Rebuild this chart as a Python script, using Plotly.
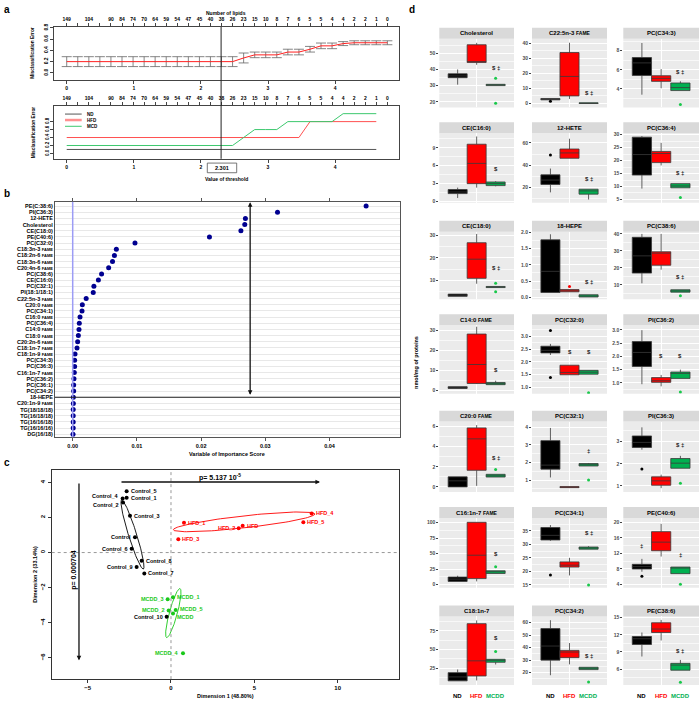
import numpy as np
import plotly.graph_objects as go

W, H = 700, 701
FONT = "Liberation Sans"


def fx(p):
    return p / W


def fy(p):
    return 1 - p / H


# ---------------- panel a data ----------------
A_THRESH = [0.000, 0.165, 0.330, 0.494, 0.659, 0.824, 0.989, 1.154, 1.318, 1.483,
            1.648, 1.813, 1.978, 2.142, 2.307, 2.472, 2.637, 2.802, 2.966, 3.131,
            3.296, 3.461, 3.626, 3.790, 3.955, 4.120, 4.285, 4.450, 4.614, 4.779]
A_NLIPIDS = ["149", "", "104", "", "90", "84", "74", "70", "64", "59", "54", "47", "45", "40",
             "38", "26", "23", "15", "10", "8", "7", "6", "5", "5", "4", "4", "2", "2", "1", "0"]
A_ERR = [0.2, 0.2, 0.2, 0.2, 0.2, 0.2, 0.2, 0.2, 0.2, 0.2, 0.2, 0.2, 0.2, 0.2, 0.2, 0.2,
         0.265, 0.32, 0.32, 0.32, 0.37, 0.37, 0.42, 0.48, 0.48, 0.52, 0.535, 0.535, 0.535, 0.535]
A_SE = [0.088, 0.088, 0.088, 0.088, 0.088, 0.088, 0.088, 0.088, 0.088, 0.088,
        0.088, 0.088, 0.088, 0.088, 0.088, 0.088, 0.088, 0.05, 0.05, 0.05,
        0.05, 0.05, 0.05, 0.05, 0.05, 0.035, 0.035, 0.035, 0.035, 0.035]
A_ND = [0.1] * 29
A_HFD = [0.4, 0.4, 0.4, 0.4, 0.4, 0.4, 0.4, 0.4, 0.4, 0.4, 0.4, 0.4, 0.4, 0.4, 0.4, 0.4,
         0.4, 0.4, 0.4, 0.4, 0.4, 0.4, 0.8, 0.8, 0.8, 0.8, 0.8, 0.8, 0.8]
A_MCD = [0.2, 0.2, 0.2, 0.2, 0.2, 0.2, 0.2, 0.2, 0.2, 0.2, 0.2, 0.2, 0.2, 0.2, 0.2, 0.2,
         0.4, 0.6, 0.6, 0.6, 0.8, 0.8, 0.8, 0.8, 0.8, 1.0, 1.0, 1.0, 1.0]
A_CHOSEN = 2.301

# ---------------- panel b data ----------------
FAME = ' <span style="font-size:4px">FAME</span>'
B_LABELS = ["PE(C:38:6)", "PI(C36:3)", "12-HETE", "Cholesterol", "CE(C18:0)", "PE(C40:6)",
            "PC(C32:0)", "C18:3n-3" + FAME, "C18:2n-6" + FAME, "C18:3n-6" + FAME,
            "C20:4n-6" + FAME, "PC(C38:6)", "CE(C16:0)", "PC(C32:1)", "PI(18:1/18:1)",
            "C22:5n-3" + FAME, "C20:0" + FAME, "PC(C34:1)", "C16:0" + FAME, "PC(C36:4)",
            "C14:0" + FAME, "C18:0" + FAME, "C20:2n-6" + FAME, "C18:1n-7" + FAME,
            "C18:1n-9" + FAME, "PC(C34:3)", "PC(C36:3)", "C16:1n-7" + FAME, "PC(C36:2)",
            "PC(C36:1)", "PC(C34:2)", "18-HEPE", "C20:1n-9" + FAME, "TG(18/18/18)",
            "TG(16/18/18)", "TG(16/16/18)", "TG(16/16/16)", "DG(16/18)"]
B_VALUES = [0.0457, 0.0319, 0.0269, 0.0268, 0.0262, 0.0213, 0.0097, 0.0068, 0.0065, 0.0062,
            0.0056, 0.0045, 0.0040, 0.0033, 0.0032, 0.0021, 0.0015, 0.00145, 0.00114, 0.00103,
            0.00098, 0.00088, 0.00077, 0.00067, 0.00036, 0.0003, 0.0003, 0.00025, 0.0002,
            0.00015, 0.00015, 0.0001, 0.0001, 0.00008, 0.00008, 0.00008, 0.00008, 0.00005]
B_CUT_ROW = 31
B_ARROW_X = 0.02764

# ---------------- panel c data ----------------
C_NAMES = ["Control_5", "Control_1", "Control_4", "Control_2", "Control_3", "Control",
           "Control_6", "Control_8", "Control_9", "Control_7", "Control_10",
           "HFD_1", "HFD_4", "HFD_5", "HFD", "HFD_2", "HFD_3",
           "MCDD_1", "MCDD_3", "MCDD_5", "MCDD_2", "MCDD", "MCDD_4"]
C_X = [-2.66, -2.66, -2.90, -2.88, -2.46, -2.16, -2.36, -1.76, -2.06, -1.60, -0.26,
       0.78, 8.44, 7.94, 4.30, 4.06, 0.44,
       0.12, -0.20, 0.28, -0.14, 0.12, 0.72]
C_Y = [3.50, 3.12, 3.08, 2.85, 2.10, 0.87, 0.21, -0.47, -0.83, -1.19, -3.66,
       1.70, 2.23, 1.72, 1.53, 1.38, 0.76,
       -2.55, -2.66, -3.27, -3.30, -3.47, -5.74]
C_GROUP = ["ND"] * 11 + ["HFD"] * 6 + ["MCDD"] * 6
# label placement (side of the point, vertical nudge in px)
C_SIDE = ["r", "r", "l", "l", "r", "l", "l", "r", "l", "r", "l",
          "r", "r", "r", "r", "l", "r",
          "r", "l", "r", "l", "r", "l"]
C_DY = [0, 0, 2, -2.5, 0, 0, 0, 0, 0, 0, 0,
        0, 0, 0, 0, 0, 0,
        0, 0, 1, 0, -3.5, 0]
# ellipses: centre, half major axis vector, half minor axis vector
C_ELLIPSES = {"ND": (-2.31, 1.03, 0.65, -1.97, 0.23, 0.07),
              "HFD": (4.39, 1.75, 4.25, 0.45, 0.04, -0.34),
              "MCDD": (0.14, -3.45, 0.40, 1.40, 0.23, -0.06)}
C_COLORS = {"ND": "black", "HFD": "#FF0000", "MCDD": "#19C819"}

# ---------------- panel d data ----------------
DF = ' <span style="font-size:5px">FAME</span>'
D_TITLES = ["Cholesterol", "C22:5n-3" + DF, "PC(C34:3)",
            "CE(C16:0)", "12-HETE", "PC(C36:4)",
            "CE(C18:0)", "18-HEPE", "PC(C38:6)",
            "C14:0" + DF, "PC(C32:0)", "PI(C36:2)",
            "C20:0" + DF, "PC(C32:1)", "PI(C36:3)",
            "C16:1n-7" + DF, "PC(C34:1)", "PE(C40:6)",
            "C18:1n-7", "PC(C34:2)", "PE(C38:6)"]
D_GROUPS = ["ND", "HFD", "MCDD"]
D_Q1 = [[34.9, 44.3, 30.0], [2.4, 5.0, 0.0], [5.41, 4.79, 3.83],
        [1.33, 3.0, 2.67], [22.8, 46.2, 14.1], [14.4, 19.2, 9.5],
        [2.9, 10.9, 6.8], [0.15, 0.17, 0.01], [17.0, 21.6, 5.8],
        [0.8, 3.3, 2.7], [2.35, 1.5, 1.52], [1.62, 1.02, 1.17],
        [0.0, 1.65, 0.98], [1.62, 0.57, 1.8], [2.74, 1.03, 1.8],
        [5.3, 9.8, 18.1], [31.6, 21.6, 28.2], [8.0, 12.7, 6.8],
        [7.7, 14.3, 32.8], [30.0, 32.0, 22.4], [10.3, 12.4, 5.8]]
D_MED = [[36.0, 44.9, 30.4], [2.8, 17.9, 0.2], [6.72, 5.1, 4.14],
         [1.6, 6.39, 3.0], [26.7, 51.0, 17.0], [22.3, 22.7, 10.2],
         [3.4, 19.4, 7.05], [0.8, 0.2, 0.04], [27.1, 28.7, 6.5],
         [1.2, 12.9, 3.2], [2.45, 1.59, 1.6], [2.15, 1.08, 1.36],
         [0.6, 4.78, 1.1], [1.85, 0.6, 1.87], [2.97, 1.23, 2.03],
         [9.0, 47.5, 21.0], [33.3, 22.3, 28.7], [8.6, 14.9, 8.4],
         [13.0, 34.7, 35.8], [41.3, 36.5, 23.5], [11.3, 13.0, 6.7]]
D_Q3 = [[37.3, 55.3, 30.8], [3.3, 33.7, 0.4], [7.28, 5.38, 4.62],
        [2.0, 9.6, 3.28], [31.4, 54.5, 18.5], [29.0, 23.5, 11.1],
        [3.9, 26.7, 7.3], [1.77, 0.24, 0.08], [38.0, 29.5, 7.2],
        [1.7, 28.3, 3.8], [2.61, 1.87, 1.67], [2.56, 1.2, 1.41],
        [1.0, 5.87, 1.25], [3.24, 0.63, 1.94], [3.26, 1.41, 2.24],
        [12.3, 100.6, 22.4], [36.2, 23.5, 29.0], [9.2, 17.6, 8.5],
        [18.8, 84.8, 36.8], [55.3, 37.8, 24.3], [11.7, 14.1, 7.0]]
D_LO = [[30.6, 42.9, 30.0], [2.4, 3.0, 0.0], [3.4, 4.07, 3.83],
        [0.6, 2.33, 2.55], [15.7, 46.2, 9.3], [9.2, 18.1, 9.5],
        [2.9, 8.5, 6.8], [0.15, 0.17, 0.01], [11.0, 19.0, 5.8],
        [0.8, 3.0, 2.7], [2.27, 1.5, 1.52], [0.95, 0.87, 1.17],
        [0.0, 0.1, 0.98], [1.15, 0.57, 1.8], [2.64, 0.9, 1.8],
        [5.3, 5.3, 18.1], [31.3, 18.5, 28.2], [7.3, 11.2, 6.8],
        [7.7, 8.3, 29.8], [17.9, 26.6, 22.4], [8.2, 11.0, 5.8]]
D_HI = [[40.0, 56.5, 30.8], [3.3, 40.2, 0.4], [8.8, 6.07, 4.8],
        [2.33, 10.9, 3.4], [37.0, 63.7, 18.5], [29.4, 26.8, 11.1],
        [3.9, 30.6, 7.3], [1.94, 0.24, 0.08], [40.0, 40.0, 7.2],
        [1.7, 32.0, 4.7], [2.7, 1.87, 1.67], [2.99, 1.3, 1.5],
        [1.0, 6.15, 1.25], [3.96, 0.63, 1.97], [3.65, 1.51, 2.36],
        [14.4, 100.6, 22.4], [37.1, 25.0, 29.3], [10.6, 19.6, 8.5],
        [23.0, 89.2, 36.8], [62.0, 43.7, 24.3], [12.4, 14.6, 7.6]]
D_OUT = [[[], [], [34.5, 19.0]], [[1.5], [], []], [[], [], [2.38]],
         [[], [], []], [[49.2], [], []], [[], [], [5.8]],
         [[], [], [8.7, 5.0]], [[], [0.33], []], [[], [], [3.7]],
         [[], [], []], [[3.22, 1.39], [], [0.8]], [[], [], [0.66]],
         [[], [], [1.72]], [[], [], [1.0]], [[1.77], [], [1.12]],
         [[], [], [28.9]], [[18.7], [], [15.0]], [[6.1], [], [4.1]],
         [[], [], [47.3]], [[], [], [12.5]], [[], [], [3.7]]]
D_YRANGE = [[16.5, 59], [-2.6, 42.8], [2.07, 9.24],
            [-0.22, 11.44], [6.3, 68.6], [3.7, 30.5],
            [1.6, 31.6], [-0.06, 2.02], [1.6, 41.3],
            [-1.9, 32.8], [0.76, 3.43], [0.59, 3.18],
            [-0.5, 6.5], [0.33, 4.32], [0.73, 3.91],
            [-4.8, 107.5], [14.0, 39.7], [3.2, 21.1],
            [2.0, 94.5], [10.0, 65.0], [3.2, 15.2]]
D_TICKS = [[20, 30, 40, 50], [0, 10, 20, 30, 40], [4, 6, 8],
           [0, 3, 6, 9], [20, 40, 60], [5, 10, 15, 20, 25, 30],
           [10, 20, 30], [0.0, 0.5, 1.0, 1.5, 2.0], [10, 20, 30, 40],
           [0, 10, 20, 30], [1.0, 1.5, 2.0, 2.5, 3.0], [1.0, 1.5, 2.0, 2.5, 3.0],
           [0, 2, 4, 6], [1, 2, 3, 4], [1, 2, 3],
           [0, 25, 50, 75, 100], [15, 20, 25, 30, 35], [4, 8, 12, 16, 20],
           [25, 50, 75], [20, 30, 40, 50, 60], [6, 9, 12, 15]]
D_SIG = [[(3, 40.8, "$ ‡")], [(3, 7.0, "$ ‡")], [(3, 5.76, "$ ‡")],
         [(3, 5.4, "$")], [(3, 27.6, "$ ‡")], [(3, 15.3, "$ ‡")],
         [(3, 15.4, "$ ‡")], [(3, 0.47, "$ ‡")], [(3, 14.6, "$ ‡")],
         [(3, 10.0, "$")], [(2, 2.38, "$"), (3, 2.38, "$")], [(2, 2.0, "$"), (3, 2.0, "$")],
         [(3, 2.9, "$ ‡")], [(3, 2.64, "‡")], [(3, 2.85, "$ ‡")],
         [(3, 50.0, "$")], [(3, 34.3, "$ ‡")], [(1, 14.0, "‡"), (3, 11.5, "‡")],
         [(3, 65.0, "$")], [(3, 33.0, "$ ‡")], [(3, 9.1, "$ ‡")]]
D_FILL = ["#000000", "#FF0000", "#00B050"]
D_OUTC = ["#000000", "#FF0000", "#19C84B"]
D_LABC = ["#000000", "#FF0000", "#00B050"]

# ---------------- layout geometry ----------------
A_X = (54.3, 399.3)
A_TOP_Y = (24.0, 77.3)
A_BOT_Y = (104.0, 156.7)
B_BOX = (55.0, 400.0, 200.0, 436.7)
C_BOX = (51.7, 399.0, 470.0, 680.0)
D_COLS = [(439.3, 514.0), (532.0, 607.0), (623.3, 699.0)]
D_STRIP_TOP = [25, 120, 219, 313, 410, 507, 606]
D_BODY_TOP = [36, 131, 230, 324, 421, 518, 617]
D_BODY_BOT = [105, 201, 298, 393, 491.7, 588, 686]

fig = go.Figure()
layout = {}
ann = []
shp = []


def bfont(size, color="black", bold=True):
    return dict(family=FONT, size=size, color=color, weight="bold" if bold else "normal")


def txt(x, y, s, size, color="black", xanchor="center", yanchor="middle", angle=0, bold=True):
    ann.append(dict(xref="paper", yref="paper", x=fx(x), y=fy(y), text=s, showarrow=False,
                    font=bfont(size, color, bold), xanchor=xanchor, yanchor=yanchor,
                    textangle=angle, borderpad=0))


# ============ panel a ============
axline = dict(showline=True, linecolor="#444", linewidth=1, mirror=True, zeroline=False,
              showgrid=False, ticks="outside", ticklen=3, tickcolor="#444")
a_xrange = [-0.185, 4.957]
layout["xaxis"] = dict(domain=[fx(A_X[0]), fx(A_X[1])], anchor="y", range=a_xrange,
                       tickvals=[0, 1, 2, 3, 4], tickfont=bfont(5), **axline)
layout["yaxis"] = dict(domain=[fy(A_TOP_Y[1]), fy(A_TOP_Y[0])], anchor="x", range=[-0.1235, 0.817],
                       tickvals=[0, 0.2, 0.4, 0.6, 0.8], ticktext=["0.0", "0.2", "0.4", "0.6", "0.8"],
                       tickangle=-90, tickfont=bfont(5), **axline)
layout["xaxis2"] = dict(overlaying="x", side="top", anchor="y", range=a_xrange, tickvals=A_THRESH,
                        ticktext=A_NLIPIDS, tickfont=bfont(5), ticks="outside", ticklen=3,
                        tickcolor="#444", showgrid=False, zeroline=False, showline=False)
layout["xaxis3"] = dict(domain=[fx(A_X[0]), fx(A_X[1])], anchor="y3", range=a_xrange,
                        tickvals=[0, 1, 2, 3, 4], tickfont=bfont(5), **axline)
layout["yaxis3"] = dict(domain=[fy(A_BOT_Y[1]), fy(A_BOT_Y[0])], anchor="x3", range=[-0.135, 1.1825],
                        tickvals=[0, 0.2, 0.4, 0.6, 0.8], ticktext=["0.0", "0.2", "0.4", "0.6", "0.8"],
                        tickangle=-90, tickfont=bfont(4.5), **axline)
layout["xaxis4"] = dict(overlaying="x3", side="top", anchor="y3", range=a_xrange, tickvals=A_THRESH,
                        ticktext=A_NLIPIDS, tickfont=bfont(5), ticks="outside", ticklen=3,
                        tickcolor="#444", showgrid=False, zeroline=False, showline=False)

fig.add_trace(go.Scatter(x=A_THRESH, y=A_ERR, mode="lines", line=dict(color="#FF2020", width=1),
                         error_y=dict(type="data", array=A_SE, color="#666", thickness=0.8, width=5),
                         xaxis="x", yaxis="y", hoverinfo="skip"))
fig.add_trace(go.Scatter(x=[0], y=[-5], mode="markers", marker=dict(opacity=0), xaxis="x2", yaxis="y",
                         hoverinfo="skip"))
fig.add_trace(go.Scatter(x=A_THRESH[:29], y=A_ND, mode="lines", line=dict(color="#555", width=1),
                         xaxis="x3", yaxis="y3", hoverinfo="skip"))
fig.add_trace(go.Scatter(x=A_THRESH[:29], y=A_HFD, mode="lines", line=dict(color="#FF5050", width=1),
                         xaxis="x3", yaxis="y3", hoverinfo="skip"))
fig.add_trace(go.Scatter(x=A_THRESH[:29], y=A_MCD, mode="lines", line=dict(color="#3CC86E", width=1),
                         xaxis="x3", yaxis="y3", hoverinfo="skip"))
fig.add_trace(go.Scatter(x=[0], y=[-5], mode="markers", marker=dict(opacity=0), xaxis="x4", yaxis="y3",
                         hoverinfo="skip"))
shp.append(dict(type="line", xref="x", yref="paper", x0=A_CHOSEN, x1=A_CHOSEN,
                y0=fy(A_BOT_Y[1]), y1=fy(A_TOP_Y[0]), line=dict(color="#222", width=1)))
shp.append(dict(type="rect", xref="paper", yref="paper", x0=fx(207.3), x1=fx(236.7),
                y0=fy(170.7), y1=fy(161), line=dict(color="#555", width=0.8)))
txt(222, 166, "2.301", 5.5)
# legend
for (nm, col, wd, yy) in [("ND", "#555", 1, 111.7), ("HFD", "#FF9090", 2.5, 117.7), ("MCD", "#3CC86E", 1, 124)]:
    shp.append(dict(type="line", xref="paper", yref="paper", x0=fx(65), x1=fx(81.7), y0=fy(yy), y1=fy(yy),
                    line=dict(color=col, width=wd)))
    txt(86, yy, nm, 4.5, xanchor="left")
txt(226, 10.5, "Number of lipids", 5)
txt(226, 176.7, "Value of threshold", 5)
txt(33, 50, "Misclassification Error", 4.8, angle=-90)
txt(33, 130, "Misclassification Error", 4.8, angle=-90)

# ============ panel b ============
n_b = len(B_LABELS)
layout["xaxis5"] = dict(domain=[fx(B_BOX[0]), fx(B_BOX[1])], anchor="y5", range=[-0.002757, 0.05098],
                        tickvals=[0, 0.01, 0.02, 0.03, 0.04], ticktext=["0.00", "0.01", "0.02", "0.03", "0.04"],
                        tickfont=bfont(5.5), showline=True, linecolor="#555", linewidth=1, mirror="ticks",
                        ticks="outside", ticklen=3, tickcolor="#555", showgrid=False, zeroline=False)
layout["yaxis5"] = dict(domain=[fy(B_BOX[3]), fy(B_BOX[2])], anchor="x5", range=[n_b - 1 + 0.48, -0.69],
                        tickvals=list(range(n_b)), ticktext=B_LABELS, tickfont=bfont(5.5), ticks="",
                        showline=True, linecolor="#555", linewidth=1, mirror=True, showgrid=True,
                        gridcolor="#E8E8E8", gridwidth=0.8, zeroline=False)
shp.append(dict(type="line", xref="x5", yref="paper", x0=0, x1=0, y0=fy(B_BOX[3]), y1=fy(B_BOX[2]),
                line=dict(color="#9C9CF5", width=1.5)))
fig.add_trace(go.Scatter(x=B_VALUES, y=list(range(n_b)), mode="markers",
                         marker=dict(color="#000090", size=5), xaxis="x5", yaxis="y5", hoverinfo="skip"))
shp.append(dict(type="line", xref="paper", yref="y5", x0=fx(B_BOX[0]), x1=fx(B_BOX[1]),
                y0=B_CUT_ROW, y1=B_CUT_ROW, line=dict(color="#222", width=1.2)))
ann.append(dict(xref="x5", yref="y5", x=B_ARROW_X, y=-0.62, ax=B_ARROW_X, ay=B_CUT_ROW - 0.15,
                axref="x5", ayref="y5", showarrow=True, arrowhead=2, arrowsize=0.7, arrowwidth=1.3,
                arrowside="end+start", arrowcolor="#111", text=""))
txt(227, 453.5, "Variable of Importance Score", 5.5)

# ============ panel c ============
layout["xaxis6"] = dict(domain=[fx(C_BOX[0]), fx(C_BOX[1])], anchor="y6", range=[-7.157, 13.68],
                        tickvals=[-5, 0, 5, 10], tickfont=bfont(6), showline=True, linecolor="#333",
                        linewidth=1, mirror=True, ticks="outside", ticklen=3, tickcolor="#333",
                        showgrid=False, zeroline=False)
layout["yaxis6"] = dict(domain=[fy(C_BOX[3]), fy(C_BOX[2])], anchor="x6", range=[-7.212, 4.686],
                        tickvals=[-6, -4, -2, 0, 2, 4], tickangle=-90, tickfont=bfont(6), showline=True,
                        linecolor="#333", linewidth=1, mirror=True, ticks="outside", ticklen=3,
                        tickcolor="#333", showgrid=False, zeroline=False)
shp.append(dict(type="line", xref="x6", yref="paper", x0=0, x1=0, y0=fy(C_BOX[3]), y1=fy(C_BOX[2]),
                line=dict(color="#999", width=1, dash="dot")))
shp.append(dict(type="line", xref="paper", yref="y6", x0=fx(C_BOX[0]), x1=fx(C_BOX[1]), y0=0, y1=0,
                line=dict(color="#999", width=1, dash="dot")))
tt = np.linspace(0, 2 * np.pi, 120)
for g, (cx, cy, ax_, ay_, bx_, by_) in C_ELLIPSES.items():
    fig.add_trace(go.Scatter(x=cx + ax_ * np.cos(tt) + bx_ * np.sin(tt),
                             y=cy + ay_ * np.cos(tt) + by_ * np.sin(tt), mode="lines",
                             line=dict(color=C_COLORS[g], width=0.9), xaxis="x6", yaxis="y6",
                             hoverinfo="skip"))
for g in ["ND", "HFD", "MCDD"]:
    idx = [i for i in range(len(C_NAMES)) if C_GROUP[i] == g]
    fig.add_trace(go.Scatter(x=[C_X[i] for i in idx], y=[C_Y[i] for i in idx], mode="markers",
                             marker=dict(color=C_COLORS[g], size=4),
                             xaxis="x6", yaxis="y6", hoverinfo="skip"))
for i in range(len(C_NAMES)):
    right = C_SIDE[i] == "r"
    ann.append(dict(xref="x6", yref="y6", x=C_X[i], y=C_Y[i], text=C_NAMES[i], showarrow=False,
                    xanchor="left" if right else "right", xshift=3 if right else -3, yshift=C_DY[i],
                    font=bfont(5.5, C_COLORS[C_GROUP[i]]), borderpad=0))
ann.append(dict(xref="x6", yref="y6", x=8.94, y=4.02, ax=-3.06, ay=4.02, axref="x6", ayref="y6",
                showarrow=True, arrowhead=2, arrowsize=0.7, arrowwidth=1.3, arrowcolor="#111", text=""))
ann.append(dict(xref="x6", yref="y6", x=-5.52, y=-6.14, ax=-5.52, ay=4.02, axref="x6", ayref="y6",
                showarrow=True, arrowhead=2, arrowsize=0.7, arrowwidth=1.3, arrowcolor="#111", text=""))
txt(220, 477, "p= 5.137 10<sup>-5</sup>", 7, yanchor="middle")
txt(74.5, 570.5, "p= 0.000704", 7, angle=-90)
txt(225, 696.5, "Dimension 1 (48.80%)", 5.5)
txt(35, 575, "Dimension 2 (33.14%)", 5.5, angle=-90)

# ============ panel d ============
for i in range(21):
    n = 7 + i
    r, c = divmod(i, 3)
    x0, x1 = D_COLS[c]
    yt, yb = D_BODY_TOP[r], D_BODY_BOT[r]
    ticks = D_TICKS[i]
    step = ticks[1] - ticks[0]
    minor = [t - step / 2 for t in ticks] + [ticks[-1] + step / 2]
    dec = any(abs(t - round(t)) > 1e-9 for t in ticks)
    ttext = [f"{t:.1f}" if dec else f"{int(t)}" for t in ticks]
    layout[f"xaxis{n}"] = dict(domain=[fx(x0), fx(x1)], anchor=f"y{n}", range=[0.034, 3.966],
                               tickvals=[2], showticklabels=False, ticks="", showgrid=True,
                               gridcolor="white", gridwidth=1, zeroline=False, showline=False)
    layout[f"yaxis{n}"] = dict(domain=[fy(yb), fy(yt)], anchor=f"x{n}", range=D_YRANGE[i],
                               tickvals=ticks, ticktext=ttext, ticks="outside", ticklen=2,
                               tickcolor="#444", tickfont=bfont(5, "#4D4D4D"), showgrid=True,
                               gridcolor="white", gridwidth=1, zeroline=False, showline=False,
                               minor=dict(tickvals=minor, showgrid=True, gridcolor="rgba(255,255,255,0.65)",
                                          gridwidth=0.5, ticks=""))
    shp.append(dict(type="rect", xref="paper", yref="paper", x0=fx(x0), x1=fx(x1), y0=fy(yb), y1=fy(yt),
                    fillcolor="#EBEBEB", line=dict(width=0), layer="below"))
    shp.append(dict(type="rect", xref="paper", yref="paper", x0=fx(x0), x1=fx(x1),
                    y0=fy(yt), y1=fy(D_STRIP_TOP[r]), fillcolor="#D9D9D9", line=dict(width=0),
                    layer="below"))
    txt((x0 + x1) / 2, (D_STRIP_TOP[r] + yt) / 2, D_TITLES[i], 6)
    for g in range(3):
        fig.add_trace(go.Box(x=[g + 1], q1=[D_Q1[i][g]], median=[D_MED[i][g]], q3=[D_Q3[i][g]],
                             lowerfence=[D_LO[i][g]], upperfence=[D_HI[i][g]], width=1.0,
                             orientation="v", fillcolor=D_FILL[g], line=dict(color="#3A3A3A", width=0.8),
                             whiskerwidth=0, boxpoints=False, xaxis=f"x{n}", yaxis=f"y{n}",
                             hoverinfo="skip"))
        if D_OUT[i][g]:
            fig.add_trace(go.Scatter(x=[g + 1] * len(D_OUT[i][g]), y=D_OUT[i][g], mode="markers",
                                     marker=dict(color=D_OUTC[g], size=3), xaxis=f"x{n}", yaxis=f"y{n}",
                                     hoverinfo="skip"))
    for (g, yv, s) in D_SIG[i]:
        ann.append(dict(xref=f"x{n}", yref=f"y{n}", x=g, y=yv, text=s, showarrow=False,
                        font=bfont(6, "#222"), borderpad=0))
    if r == 6:
        for g in range(3):
            ann.append(dict(xref=f"x{n}", yref="paper", x=g + 1, y=fy(696.5), text=D_GROUPS[g],
                            showarrow=False, font=bfont(6, D_LABC[g]), borderpad=0, yanchor="middle"))

txt(416, 362, "nmol/mg of proteins", 5.5, angle=-90)

# panel letters
txt(3, 7, "a", 10, xanchor="left")
txt(3, 192, "b", 10, xanchor="left")
txt(3, 462, "c", 10, xanchor="left")
txt(408, 7, "d", 10, xanchor="left")

fig.update_layout(width=W, height=H, margin=dict(l=0, r=0, t=0, b=0), paper_bgcolor="white",
                  plot_bgcolor="rgba(0,0,0,0)", showlegend=False, boxmode="overlay",
                  annotations=ann, shapes=shp, font=dict(family=FONT), **layout)
fig.write_html("out.html", config={"displayModeBar": False},
               post_script="document.body.style.margin='0px';document.body.style.overflow='hidden';")
